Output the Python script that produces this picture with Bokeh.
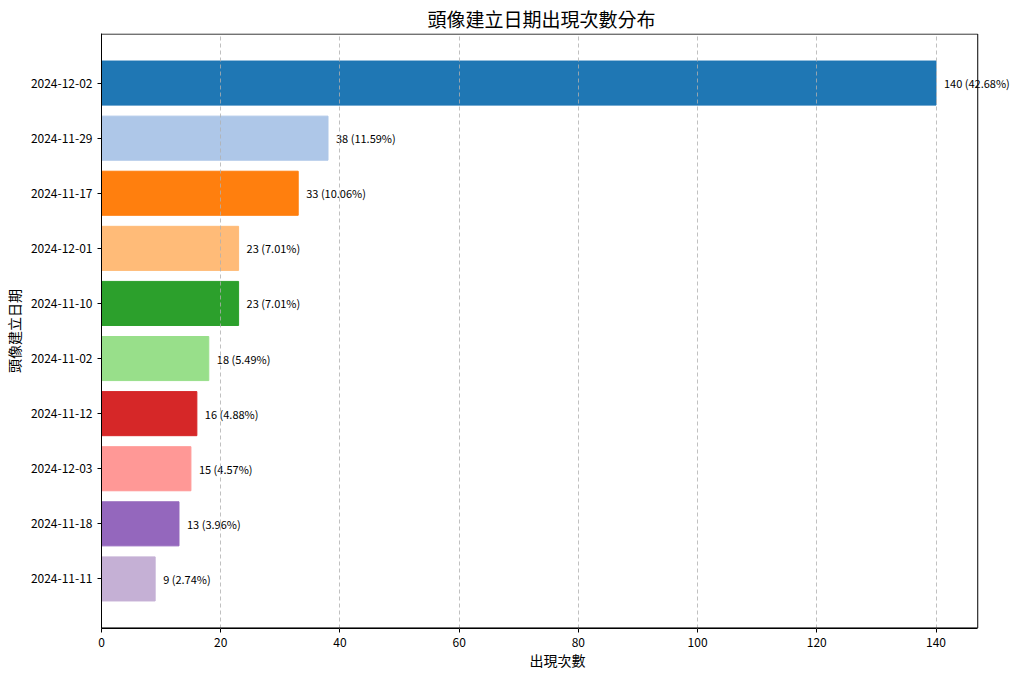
from bokeh.plotting import figure
from bokeh.models import (ColumnDataSource, FactorRange, Range1d, SingleIntervalTicker,
                          LabelSet, BoxAnnotation)
from bokeh.embed import file_html
from bokeh.resources import INLINE
from bokeh.core.properties import value

dates = ["2024-12-02", "2024-11-29", "2024-11-17", "2024-12-01", "2024-11-10",
         "2024-11-02", "2024-11-12", "2024-12-03", "2024-11-18", "2024-11-11"]
counts = [140, 38, 33, 23, 23, 18, 16, 15, 13, 9]
colors = ["#1f77b4", "#aec7e8", "#ff7f0e", "#ffbb78", "#2ca02c",
          "#98df8a", "#d62728", "#ff9896", "#9467bd", "#c5b0d5"]

total = sum(counts)
labels = [f"{c} ({c / total * 100:.2f}%)" for c in counts]

FONT = "Noto Sans CJK TC"
X_MAX = 147      # axis end (matplotlib autoscale of 140)
X_VIEW = 153     # extra room so the top label can overflow the axes box
BOX_W = 876
PAD = 0.40

src = ColumnDataSource(dict(date=dates, count=counts, color=colors, label=labels))

p = figure(frame_width=int(round(BOX_W * X_VIEW / X_MAX)), frame_height=595,
           output_backend="svg", toolbar_location=None,
           y_range=FactorRange(factors=list(reversed(dates)), range_padding=PAD,
                               range_padding_units="absolute"),
           x_range=Range1d(0, X_VIEW),
           min_border_left=93, min_border_right=0, min_border_top=28, min_border_bottom=40,
           title="頭像建立日期出現次數分布")

p.hbar(y="date", right="count", left=0, height=0.8, color="color", source=src)
lbl = LabelSet(x="count", y="date", text="label", source=src, x_offset=8,
               text_baseline="middle", text_align="left", text_font_size="11px",
               text_font=value(FONT), text_color="black")
p.add_layout(lbl)

# axes box (spines) limited to [0, X_MAX]
box = BoxAnnotation(left=0, right=X_MAX, bottom=-PAD + 0.01, top=len(dates) + PAD - 0.01,
                    fill_alpha=0, line_color="black", line_alpha=1.0,
                    line_width=1, level="overlay")
p.add_layout(box)

p.title.align = "left"
p.title.text_font = FONT
p.title.text_font_size = "19px"
p.title.text_font_style = "normal"
p.title.text_color = "black"
p.title.offset = 326
p.title.standoff = 4

p.xaxis.ticker = SingleIntervalTicker(interval=20)
p.xaxis.bounds = (0, X_MAX)
p.xaxis.axis_label = "出現次數"
p.yaxis.axis_label = "頭像建立日期"
for ax in (p.xaxis, p.yaxis):
    ax.axis_label_text_font = FONT
    ax.axis_label_text_font_size = "14px"
    ax.axis_label_text_font_style = "normal"
    ax.major_label_text_font = FONT
    ax.major_label_text_font_size = "12px"
    ax.major_tick_in = 0
    ax.major_tick_out = 4
    ax.minor_tick_line_color = None
    ax.axis_line_color = "black"
    ax.major_tick_line_color = "black"
    ax.major_label_text_color = "black"
    ax.axis_label_text_color = "black"

p.xaxis.axis_label_standoff = 0
p.yaxis.axis_label_standoff = 4
p.yaxis.major_label_standoff = 5

p.xgrid.grid_line_color = "#b0b0b0"
p.xgrid.grid_line_dash = "4 3"
p.xgrid.grid_line_alpha = 0.8
p.xgrid.level = "overlay"
p.ygrid.grid_line_color = None
p.outline_line_color = None

open("out.html", "w").write(file_html(p, INLINE))
